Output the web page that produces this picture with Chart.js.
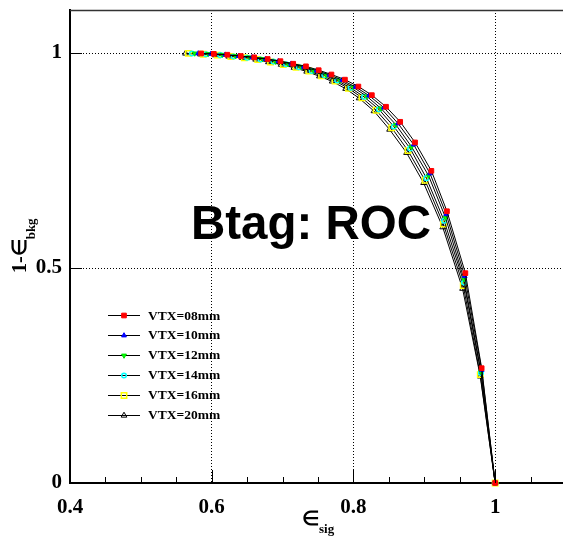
<!DOCTYPE html>
<html><head><meta charset="utf-8">
<script src="https://cdn.jsdelivr.net/npm/chart.js@4"></script>
<style>html,body{margin:0;padding:0;overflow:hidden;background:#fff}</style>
</head><body>
<canvas id="c" width="572" height="536"></canvas>
<script>
// ---- data ----
const seriesLabels = ['VTX=08mm','VTX=10mm','VTX=12mm','VTX=14mm','VTX=16mm','VTX=20mm'];

const effSig08 = [0.585,0.603,0.622,0.641,0.660,0.679,0.697,0.715,0.733,0.751,0.769,0.788,0.807,0.826,0.846,0.866,0.887,0.910,0.932,0.958,0.981,1.000];
const rejBkg08 = [0.999,0.998,0.996,0.993,0.990,0.986,0.981,0.975,0.969,0.960,0.950,0.938,0.922,0.902,0.875,0.840,0.792,0.726,0.632,0.488,0.267,0.000];

const effSig10 = [0.581,0.599,0.619,0.638,0.657,0.676,0.694,0.712,0.730,0.748,0.766,0.784,0.803,0.822,0.843,0.863,0.885,0.908,0.931,0.957,0.981,1.000];
const rejBkg10 = [0.999,0.998,0.996,0.993,0.990,0.986,0.981,0.975,0.968,0.959,0.949,0.937,0.921,0.901,0.873,0.836,0.787,0.720,0.625,0.481,0.263,0.000];

const effSig12 = [0.576,0.595,0.615,0.634,0.653,0.672,0.690,0.708,0.726,0.744,0.762,0.781,0.800,0.819,0.839,0.860,0.882,0.906,0.930,0.956,0.980,1.000];
const rejBkg12 = [0.999,0.998,0.996,0.993,0.990,0.986,0.980,0.974,0.968,0.959,0.948,0.936,0.920,0.899,0.871,0.833,0.782,0.715,0.617,0.474,0.259,0.000];

const effSig14 = [0.572,0.592,0.612,0.631,0.650,0.669,0.687,0.705,0.723,0.741,0.759,0.777,0.796,0.815,0.836,0.857,0.880,0.903,0.928,0.956,0.980,1.000];
const rejBkg14 = [0.999,0.997,0.995,0.992,0.989,0.985,0.980,0.974,0.967,0.958,0.948,0.936,0.919,0.898,0.869,0.829,0.778,0.709,0.610,0.466,0.256,0.000];

const effSig16 = [0.567,0.588,0.608,0.627,0.646,0.665,0.683,0.701,0.719,0.737,0.755,0.774,0.793,0.812,0.832,0.854,0.877,0.901,0.927,0.955,0.979,1.000];
const rejBkg16 = [0.999,0.997,0.995,0.992,0.989,0.985,0.979,0.973,0.967,0.958,0.947,0.935,0.918,0.896,0.867,0.826,0.773,0.704,0.602,0.459,0.252,0.000];

const effSig20 = [0.563,0.584,0.605,0.624,0.643,0.662,0.680,0.698,0.716,0.734,0.752,0.770,0.789,0.808,0.829,0.851,0.875,0.899,0.926,0.954,0.979,1.000];
const rejBkg20 = [0.999,0.997,0.995,0.992,0.989,0.985,0.979,0.973,0.966,0.957,0.946,0.934,0.917,0.895,0.865,0.822,0.768,0.698,0.595,0.452,0.248,0.000];

const xTicks = [0.4, 0.6, 0.8, 1.0];
const xTickLabels = ['0.4', '0.6', '0.8', '1'];
const xMinorTicks = [0.45, 0.5, 0.55, 0.65, 0.7, 0.75, 0.85, 0.9, 0.95, 1.05];
const yTicks = [0, 0.5, 1.0];
const yTickLabels = ['0', '0.5', '1'];
const chartTitle = 'Btag: ROC';
const xTitle = ['\u2208', 'sig'];
const yTitle = ['1-\u2208', 'bkg'];

// ---- styles ----
const allX = [effSig08, effSig10, effSig12, effSig14, effSig16, effSig20];
const allY = [rejBkg08, rejBkg10, rejBkg12, rejBkg14, rejBkg16, rejBkg20];
const markerStyles = [
  {style:'rect', r:3.3, fill:'#ff0000', stroke:'#ff0000', bw:1, rot:0},
  {style:'triangle', r:2.8, fill:'#0000ff', stroke:'#0000ff', bw:1, rot:0},
  {style:'triangle', r:2.8, fill:'#00ff00', stroke:'#00dd00', bw:1, rot:180},
  {style:'circle', r:2.3, fill:'rgba(0,0,0,0)', stroke:'#00ffff', bw:1.5, rot:0},
  {style:'rect', r:3.8, fill:'rgba(0,0,0,0)', stroke:'#ffff00', bw:1.5, rot:0},
  {style:'triangle', r:3.3, fill:'rgba(0,0,0,0)', stroke:'#000000', bw:1, rot:0}
];

const datasets = seriesLabels.map((lab, k) => ({
  label: lab,
  data: allX[k].map((x, i) => ({x: x, y: allY[k][i]})),
  borderColor: '#000',
  borderWidth: 1,
  tension: 0,
  fill: false,
  clip: false,
  pointStyle: markerStyles[k].style,
  pointRadius: markerStyles[k].r,
  pointRotation: markerStyles[k].rot,
  pointBackgroundColor: markerStyles[k].fill,
  pointBorderColor: markerStyles[k].stroke,
  pointBorderWidth: markerStyles[k].bw
}));

const SERIF = '"Liberation Serif", "Times New Roman", serif';

const decorPlugin = {
  id: 'decor',
  afterDraw(chart) {
    const ctx = chart.ctx, ca = chart.chartArea;
    const xs = chart.scales.x, ys = chart.scales.y;
    ctx.save();
    // top & right frame
    ctx.strokeStyle = '#333'; ctx.lineWidth = 1.5;
    ctx.beginPath();
    ctx.moveTo(ca.left, ca.top + 0.5); ctx.lineTo(ca.right, ca.top + 0.5);
    ctx.moveTo(ca.right - 0.5, ca.top); ctx.lineTo(ca.right - 0.5, ca.bottom);
    ctx.stroke();
    // inward ticks
    ctx.strokeStyle = '#000'; ctx.lineWidth = 1;
    ctx.beginPath();
    xTicks.forEach(v => { const p = Math.round(xs.getPixelForValue(v)) + 0.5; ctx.moveTo(p, ca.bottom); ctx.lineTo(p, ca.bottom - 13); });
    xMinorTicks.forEach(v => { const p = Math.round(xs.getPixelForValue(v)) + 0.5; ctx.moveTo(p, ca.bottom); ctx.lineTo(p, ca.bottom - 6); });
    yTicks.forEach(v => { const p = Math.round(ys.getPixelForValue(v)) + 0.5; ctx.moveTo(ca.left, p); ctx.lineTo(ca.left + 12, p); });
    ctx.stroke();
    // title
    ctx.fillStyle = '#000';
    ctx.font = 'bold 47.5px "Liberation Sans", Arial, sans-serif';
    ctx.textAlign = 'left'; ctx.textBaseline = 'alphabetic';
    ctx.fillText(chartTitle, 191, 239);
    // x title
    ctx.font = 'bold 20px ' + SERIF;
    ctx.fillText(xTitle[0], 302, 525);
    const wx = ctx.measureText(xTitle[0]).width;
    ctx.font = 'bold 13px ' + SERIF;
    ctx.fillText(xTitle[1], 302 + wx, 533);
    // y title
    ctx.save();
    ctx.translate(26, 273);
    ctx.rotate(-Math.PI / 2);
    ctx.font = 'bold 20px ' + SERIF;
    ctx.fillText(yTitle[0], 0, 0);
    const wy = ctx.measureText(yTitle[0]).width;
    ctx.font = 'bold 13px ' + SERIF;
    ctx.fillText(yTitle[1], wy, 9);
    ctx.restore();
    // legend
    chart.data.datasets.forEach((ds, k) => {
      const y = 315 + k * 19.9;
      ctx.strokeStyle = '#000'; ctx.lineWidth = 1;
      ctx.beginPath(); ctx.moveTo(108, Math.round(y) + 0.5); ctx.lineTo(140, Math.round(y) + 0.5); ctx.stroke();
      const m = markerStyles[k];
      ctx.fillStyle = m.fill; ctx.strokeStyle = m.stroke; ctx.lineWidth = m.bw;
      Chart.helpers.drawPoint(ctx, {pointStyle: m.style, radius: m.r, rotation: m.rot, borderWidth: m.bw}, 124, Math.round(y) + 0.5);
      ctx.fillStyle = '#000';
      ctx.font = 'bold 13.5px ' + SERIF;
      ctx.textAlign = 'left'; ctx.textBaseline = 'alphabetic';
      ctx.fillText(ds.label, 148, y + 4.5);
    });
    ctx.restore();
  }
};

new Chart(document.getElementById('c'), {
  type: 'line',
  data: { datasets: datasets },
  options: {
    responsive: false,
    animation: false,
    events: [],
    layout: { padding: { top: 10, right: 6, left: 0, bottom: 0 } },
    plugins: { legend: { display: false }, tooltip: { enabled: false }, title: { display: false } },
    scales: {
      x: {
        type: 'linear', position: 'bottom', min: 0.4, max: 1.1,
        afterBuildTicks: s => { s.ticks = xTicks.map(v => ({value: v})); },
        afterFit: s => { s.height = 536 - 483; s.paddingLeft = 0; s.paddingRight = 0; },
        ticks: {
          autoSkip: false, maxRotation: 0, color: '#000', padding: 12,
          font: { family: SERIF, weight: 'bold', size: 21 },
          callback: (v, i) => xTickLabels[i]
        },
        grid: {
          drawTicks: false, lineWidth: 1,
          color: c => (c.tick && Math.abs(c.tick.value - 0.4) < 1e-9) ? 'rgba(0,0,0,0)' : '#000'
        },
        border: { display: true, color: '#000', width: 2, dash: [1, 2] }
      },
      y: {
        type: 'linear', position: 'left', min: 0, max: 1.1,
        afterBuildTicks: s => { s.ticks = yTicks.map(v => ({value: v})); },
        afterFit: s => { s.width = 70; s.paddingTop = 0; s.paddingBottom = 0; },
        ticks: {
          autoSkip: false, color: '#000', padding: 8,
          font: { family: SERIF, weight: 'bold', size: 21 },
          callback: (v, i) => yTickLabels[i]
        },
        grid: {
          drawTicks: false, lineWidth: 1,
          color: c => (c.tick && Math.abs(c.tick.value) < 1e-9) ? 'rgba(0,0,0,0)' : '#000'
        },
        border: { display: true, color: '#000', width: 2, dash: [1, 2] }
      }
    }
  },
  plugins: [decorPlugin]
});
</script>
</body></html>
